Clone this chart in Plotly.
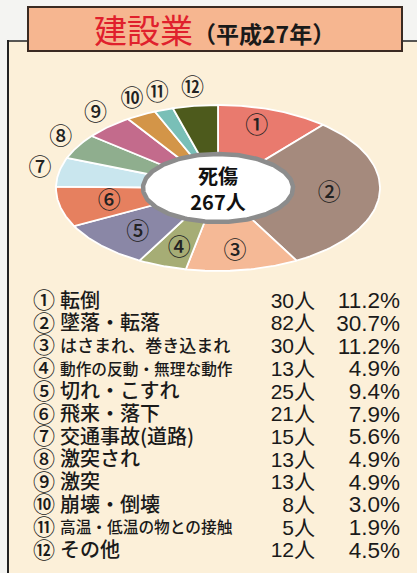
import numpy as np
import plotly.graph_objects as go

# ---- data ----
nums = ["①", "②", "③", "④", "⑤", "⑥", "⑦", "⑧", "⑨", "⑩", "⑪", "⑫"]
causes = ["転倒", "墜落・転落", "はさまれ、巻き込まれ", "動作の反動・無理な動作",
          "切れ・こすれ", "飛来・落下", "交通事故(道路)", "激突され", "激突",
          "崩壊・倒壊", "高温・低温の物との接触", "その他"]
counts = [30, 82, 30, 13, 25, 21, 15, 13, 13, 8, 5, 12]
percents = [11.2, 30.7, 11.2, 4.9, 9.4, 7.9, 5.6, 4.9, 4.9, 3.0, 1.9, 4.5]
total = 267
title_main = "建設業"
title_sub = "（平成27年）"
center_label = "死傷"

# ---- styles ----
colors = ["#e97a6e", "#a58a7d", "#f5b996", "#a6ad75", "#8a87a6", "#e6805f",
          "#c9e6ee", "#8fae8e", "#c36b8c", "#d39548", "#79bfb7", "#4d5a1c"]
label_sizes = [20, 20, 17, 15.7, 20, 20, 20, 20, 20, 20, 15.7, 20]
n_inside = 6
JP = "Noto Sans CJK JP"
NUMF = "Liberation Sans, Noto Sans CJK JP"
W, H = 417, 573
CX, CY, A, B = 218, 188, 162, 83      # ellipse centre / semi-axes (px)
HX, HY = 0.463, 0.41                  # hole size relative to ellipse

fig = go.Figure()

# ---- elliptical donut wedges (computed from counts) ----
vals = np.array(counts, dtype=float)
ang = np.concatenate([[0], np.cumsum(vals)]) / vals.sum() * 2 * np.pi
for i in range(len(vals)):
    t = np.linspace(ang[i], ang[i + 1], 60)
    xs = np.concatenate([[0], np.sin(t), [0]])
    ys = np.concatenate([[0], np.cos(t), [0]])
    fig.add_trace(go.Scatter(x=xs, y=ys, mode="lines", fill="toself",
                             fillcolor=colors[i], line=dict(color="white", width=1.8),
                             hoverinfo="skip", showlegend=False, xaxis="x", yaxis="y"))

# hole
th = np.linspace(0, 2 * np.pi, 200)
fig.add_trace(go.Scatter(x=HX * np.sin(th), y=HY * np.cos(th), mode="lines", fill="toself",
                         fillcolor="white", line=dict(color="#8c8c8c", width=4.5),
                         hoverinfo="skip", showlegend=False, xaxis="x", yaxis="y"))

# slice labels
mid = (ang[:-1] + ang[1:]) / 2
rx = np.array([0.69] * n_inside + [1.12] * (len(vals) - n_inside))
ry = np.array([0.78] * n_inside + [1.2] * (len(vals) - n_inside))
fig.add_trace(go.Scatter(x=rx * np.sin(mid), y=ry * np.cos(mid), mode="text", text=nums,
                         textposition="middle center",
                         textfont=dict(family=JP, size=23, color="#222", weight=500),
                         hoverinfo="skip", showlegend=False, xaxis="x", yaxis="y"))

# centre text
fig.add_trace(go.Scatter(x=[0], y=[-0.05], mode="text",
                         text=[f"<b>{center_label}<br>{total}人</b>"],
                         textposition="middle center",
                         textfont=dict(family=JP, size=20, color="#111"),
                         hoverinfo="skip", showlegend=False, xaxis="x", yaxis="y"))

# ---- legend table (axis 2 in pixel units) ----
rows = 302.5 + 22.7 * np.arange(len(nums))
fig.add_trace(go.Scatter(x=[33] * len(nums), y=rows, mode="text", text=nums,
                         textposition="middle right",
                         textfont=dict(family=JP, size=22, color="#1a1a1a", weight=500),
                         hoverinfo="skip", showlegend=False, xaxis="x2", yaxis="y2"))
fig.add_trace(go.Scatter(x=[60] * len(nums), y=rows, mode="text", text=causes,
                         textposition="middle right",
                         textfont=dict(family=JP, size=label_sizes, color="#1a1a1a", weight=500),
                         hoverinfo="skip", showlegend=False, xaxis="x2", yaxis="y2"))
fig.add_trace(go.Scatter(x=[315] * len(nums), y=rows, mode="text",
                         text=[f"{c}人" for c in counts], textposition="middle left",
                         textfont=dict(family=NUMF, size=21, color="#1a1a1a"),
                         hoverinfo="skip", showlegend=False, xaxis="x2", yaxis="y2"))
fig.add_trace(go.Scatter(x=[400] * len(nums), y=rows, mode="text",
                         text=[f"{p:.1f}%" for p in percents], textposition="middle left",
                         textfont=dict(family=NUMF, size=22.5, color="#1a1a1a"),
                         hoverinfo="skip", showlegend=False, xaxis="x2", yaxis="y2"))

# ---- frame & title ----
shapes = [
    dict(type="rect", xref="x2", yref="y2", x0=8, x1=W + 5, y0=41, y1=H + 5,
         fillcolor="#fcf0d9", line=dict(width=0), layer="below"),
    dict(type="line", xref="x2", yref="y2", x0=8, x1=8, y0=40, y1=H + 5,
         line=dict(color="#222", width=2), layer="below"),
    dict(type="line", xref="x2", yref="y2", x0=7, x1=W + 5, y0=41, y1=41,
         line=dict(color="#222", width=1.5), layer="below"),
    dict(type="rect", xref="x2", yref="y2", x0=28, x1=402, y0=7, y1=51,
         fillcolor="#f6b690", line=dict(color="#3a2a22", width=2), layer="below"),
]

fig.add_annotation(xref="x2", yref="y2", x=214, y=29, showarrow=False,
                   xanchor="center", yanchor="middle",
                   text=(f'<span style="color:#e0202c;font-size:33px">{title_main}</span>'
                         f'<b>{title_sub}</b>'),
                   font=dict(family=JP, size=23, color="#1a1a1a"))

fig.update_layout(
    width=W, height=H, autosize=False,
    margin=dict(l=0, r=0, t=0, b=0),
    paper_bgcolor="#f4f4f2", plot_bgcolor="rgba(0,0,0,0)",
    shapes=shapes,
    xaxis=dict(domain=[0, 1], range=[-CX / A, (W - CX) / A], visible=False, fixedrange=True),
    yaxis=dict(domain=[0, 1], range=[(CY - H) / B, CY / B], visible=False, fixedrange=True),
    xaxis2=dict(domain=[0, 1], range=[0, W], visible=False, overlaying="x", fixedrange=True),
    yaxis2=dict(domain=[0, 1], range=[H, 0], visible=False, overlaying="y", fixedrange=True),
)

fig.write_html("out.html", config={"displayModeBar": False},
               post_script="document.body.style.margin='0';")
